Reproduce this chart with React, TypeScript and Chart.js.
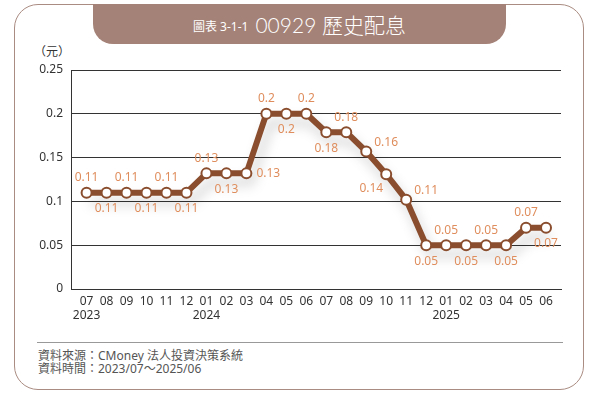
import { useEffect, useRef } from 'react';
import { Chart, registerables } from 'chart.js';

Chart.register(...registerables);

const months = ['07', '08', '09', '10', '11', '12', '01', '02', '03', '04', '05', '06', '07', '08', '09', '10', '11', '12', '01', '02', '03', '04', '05', '06'];
const years = ['2023', '', '', '', '', '', '2024', '', '', '', '', '', '', '', '', '', '', '', '2025', '', '', '', '', ''];
const dividends = [0.11, 0.11, 0.11, 0.11, 0.11, 0.11, 0.132, 0.132, 0.132, 0.2, 0.2, 0.2, 0.179, 0.179, 0.157, 0.131, 0.102, 0.05, 0.05, 0.05, 0.05, 0.05, 0.07, 0.07];
const valueLabels = ['0.11', '0.11', '0.11', '0.11', '0.11', '0.11', '0.13', '0.13', '0.13', '0.2', '0.2', '0.2', '0.18', '0.18', '0.16', '0.14', '0.11', '0.05', '0.05', '0.05', '0.05', '0.05', '0.07', '0.07'];
const yTicks = [0, 0.05, 0.1, 0.15, 0.2, 0.25];

// where each value label sits relative to its point
const placement = ['a', 'b', 'a', 'b', 'a', 'b', 'a', 'b', 'r', 'a', 'b', 'a', 'b', 'a', 'ru', 'bl', 'ru', 'b', 'a', 'b', 'a', 'b', 'a', 'b'];

const LINE = '#8a4e2e';
const LABEL = '#df8d5c';
const FONT = "'Noto Sans', 'Noto Sans CJK TC', sans-serif";

const shadowPlugin = {
  id: 'lineShadow',
  beforeDatasetsDraw(chart: any) {
    const pts = chart.getDatasetMeta(0).data;
    const ctx = chart.ctx;
    ctx.save();
    ctx.filter = 'blur(6px)';
    ctx.translate(4, 9);
    ctx.beginPath();
    pts.forEach((p: any, i: number) => (i ? ctx.lineTo(p.x, p.y) : ctx.moveTo(p.x, p.y)));
    ctx.strokeStyle = 'rgba(0,0,0,0.16)';
    ctx.lineWidth = 7;
    ctx.lineJoin = 'round';
    ctx.stroke();
    ctx.restore();
  },
};

const labelPlugin = {
  id: 'valueLabels',
  afterDatasetsDraw(chart: any) {
    const pts = chart.getDatasetMeta(0).data;
    const ctx = chart.ctx;
    ctx.save();
    ctx.font = `12px ${FONT}`;
    ctx.fillStyle = LABEL;
    ctx.textBaseline = 'middle';
    pts.forEach((p: any, i: number) => {
      const pos = placement[i];
      let dx = 0;
      let dy = 0;
      ctx.textAlign = 'center';
      if (pos === 'a') dy = -15;
      else if (pos === 'b') dy = 16;
      else if (pos === 'r') {
        dx = 10;
        ctx.textAlign = 'left';
      } else if (pos === 'ru') {
        dx = 8;
        dy = -9;
        ctx.textAlign = 'left';
      } else if (pos === 'bl') {
        dx = -3;
        dy = 14;
        ctx.textAlign = 'right';
      }
      ctx.fillText(valueLabels[i], p.x + dx, p.y + dy);
    });
    ctx.restore();
  },
};

function DividendChart() {
  const canvasRef = useRef<HTMLCanvasElement | null>(null);
  const chartRef = useRef<Chart | null>(null);

  useEffect(() => {
    if (!canvasRef.current) return;
    if (chartRef.current) chartRef.current.destroy();

    chartRef.current = new Chart(canvasRef.current, {
      type: 'line',
      data: {
        datasets: [
          {
            data: dividends.map((v, i) => ({ x: i, y: v })),
            borderColor: LINE,
            borderWidth: 6,
            borderJoinStyle: 'round',
            tension: 0,
            pointRadius: 5,
            pointBorderWidth: 2,
            pointBackgroundColor: '#ffffff',
            pointBorderColor: LINE,
          },
        ],
      },
      options: {
        animation: false,
        responsive: false,
        layout: { padding: { top: 30, right: 34, left: 0, bottom: 0 } },
        plugins: { legend: { display: false }, tooltip: { enabled: false } },
        scales: {
          x: {
            type: 'linear',
            min: -0.78,
            max: 23.75,
            afterBuildTicks: (s: any) => {
              s.ticks = months.map((_, i) => ({ value: i }));
            },
            afterFit: (s: any) => {
              s.height = 41;
            },
            grid: { display: false, drawTicks: false },
            border: { display: true, color: '#333', width: 1 },
            ticks: {
              autoSkip: false,
              maxRotation: 0,
              padding: 5,
              color: '#333',
              font: { family: FONT, size: 12, lineHeight: 1.2 },
              callback: (v: any) => {
                const i = Math.round(v);
                return years[i] ? [months[i], years[i]] : months[i];
              },
            },
          },
          y: {
            min: 0,
            max: 0.25,
            afterBuildTicks: (s: any) => {
              s.ticks = yTicks.map((v) => ({ value: v }));
            },
            afterFit: (s: any) => {
              s.width = 71;
            },
            grid: { color: '#333', lineWidth: 1, drawTicks: false },
            border: { display: true, color: '#333', width: 1 },
            ticks: {
              padding: 8,
              color: '#333',
              font: { family: FONT, size: 12 },
              callback: (v: any) => String(Math.round(v * 100) / 100),
            },
          },
        },
      },
      plugins: [shadowPlugin, labelPlugin],
    } as any);

    return () => {
      if (chartRef.current) {
        chartRef.current.destroy();
        chartRef.current = null;
      }
    };
  }, []);

  return <canvas ref={canvasRef} width={595} height={290} style={{ position: 'absolute', left: 0, top: 40 }} />;
}

export default function App() {
  return (
    <div style={{ position: 'absolute', left: 0, top: 0, width: 595, height: 400, background: '#fff', fontFamily: FONT, overflow: 'hidden' }}>
      <div
        style={{
          position: 'absolute',
          left: 14,
          top: 4,
          width: 568,
          height: 384,
          border: '1.5px solid #aa8c82',
          borderRadius: 24,
        }}
      />
      <div
        style={{
          position: 'absolute',
          left: 93,
          top: 4,
          width: 413,
          height: 40,
          background: '#a58277',
          borderBottomLeftRadius: 20,
          borderBottomRightRadius: 20,
          display: 'flex',
          alignItems: 'center',
          justifyContent: 'center',
          color: '#fff',
        }}
      >
        <span style={{ fontSize: 12, marginRight: 7, marginTop: 3 }}>圖表 3-1-1</span>
        <span style={{ fontSize: 21, fontFamily: "Lato, 'Noto Sans CJK TC', sans-serif", fontWeight: 300 }}>00929 歷史配息</span>
      </div>
      <div style={{ position: 'absolute', left: 34, top: 42, fontSize: 12, color: '#333' }}>（元）</div>
      <DividendChart />
      <div style={{ position: 'absolute', left: 37, top: 342, width: 526, height: 1, background: '#999' }} />
      <div style={{ position: 'absolute', left: 38, top: 349, fontSize: 12, lineHeight: '13px', color: '#555' }}>
        <div>資料來源：CMoney 法人投資決策系統</div>
        <div>資料時間：2023/07～2025/06</div>
      </div>
    </div>
  );
}
